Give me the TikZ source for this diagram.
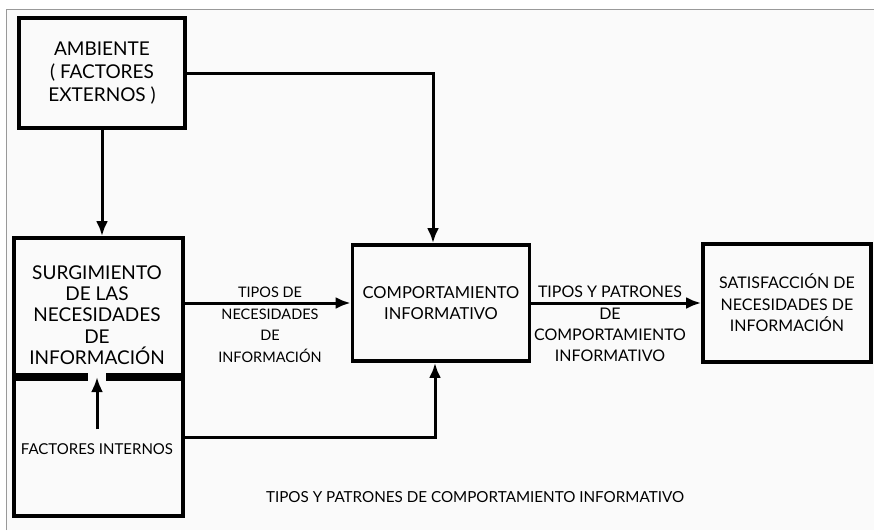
\documentclass[tikz,border=0pt]{standalone}
\usepackage{fontspec}
\setmainfont{Lato}
\usetikzlibrary{arrows.meta,positioning,calc}

\tikzset{
  box/.style={draw, line width=3.8pt, inner sep=0pt, align=center},
  lbl/.style={align=center, inner sep=0pt},
  conn/.style={line width=3pt, -{Latex[length=15pt,width=12pt]}},
  divline/.style={line width=7.5pt},
}

\begin{document}
\begin{tikzpicture}[x=1pt,y=-1pt]
  \useasboundingbox (0,0) rectangle (874,530);
  \fill[gray!4] (6,9) rectangle (874,530);
  \draw[gray!80, line width=1pt] (6,530) -- (6,9) -- (874,9);

  % boxes
  \node[box, minimum width=166pt, minimum height=110pt,
        font=\fontsize{19}{23}\selectfont] (amb) at (102,73)
        {AMBIENTE\\( FACTORES\\EXTERNOS )};
  \node[box, minimum width=169pt, minimum height=278pt] (surg) at (98.5,377) {};
  \node[lbl, font=\fontsize{19}{21.3}\selectfont] (surgtxt) at (97,315)
        {SURGIMIENTO\\DE LAS\\NECESIDADES\\DE\\INFORMACIÓN};
  \node[lbl, font=\fontsize{15}{17}\selectfont] (factint) at (97,449)
        {FACTORES INTERNOS};
  \node[box, minimum width=177pt, minimum height=116pt,
        font=\fontsize{16.5}{20.5}\selectfont] (comp) at (441,303)
        {COMPORTAMIENTO\\INFORMATIVO};
  \node[box, minimum width=168pt, minimum height=118pt,
        font=\fontsize{16}{21.5}\selectfont] (satis) at (787,303)
        {SATISFACCIÓN DE\\NECESIDADES DE\\INFORMACIÓN};

  % divider inside surg
  \draw[divline] (surg.west) -- ++(76,0);
  \draw[divline] (surg.east) -- ++(-79,0);

  % connectors
  \draw[conn] (amb.south) -- (amb.south |- surg.north);
  \draw[conn] (amb.east) -| ([xshift=-8pt]comp.north);
  \draw[conn] (comp.west -| surg.east) -- (comp.west);
  \draw[conn] (comp.east) -- (comp.east -| satis.west);
  \draw[conn] ([yshift=14pt]factint.north) -- (factint.north |- surg.center);
  \draw[conn] ([yshift=-60pt]surg.east) -| ([xshift=-6pt]comp.south);

  % labels
  \node[lbl, anchor=north, font=\fontsize{14.5}{21.5}\selectfont] (lblneces) at (270,287)
        {TIPOS DE\\NECESIDADES\\DE\\INFORMACIÓN};
  \node[lbl, anchor=north, font=\fontsize{16}{21.3}\selectfont] (lblpatron) at (610,286)
        {TIPOS Y PATRONES\\DE\\COMPORTAMIENTO\\INFORMATIVO};
  \node[lbl, font=\fontsize{15.2}{20}\selectfont] (caption) at (475,497)
        {TIPOS Y PATRONES DE COMPORTAMIENTO INFORMATIVO};
\end{tikzpicture}
\end{document}
